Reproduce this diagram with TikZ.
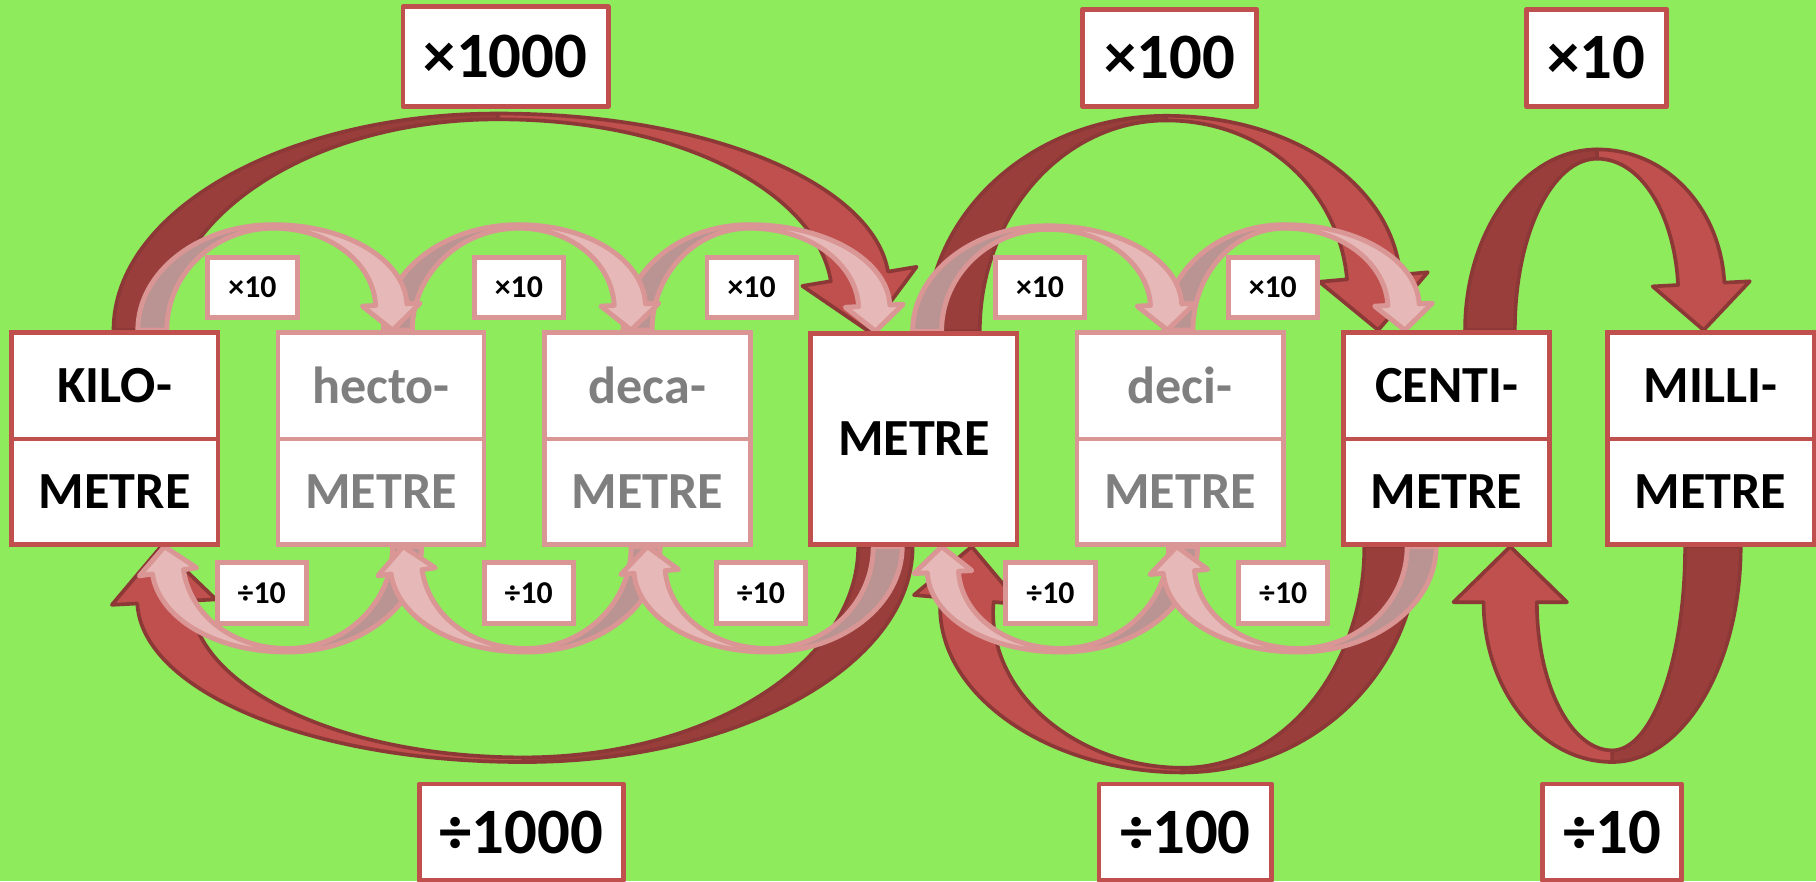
\documentclass[tikz,border=0pt]{standalone}
\usepackage{fontspec}
\setmainfont{Carlito}
\usetikzlibrary{calc}
\pgfdeclarelayer{bglayer}
\pgfdeclarelayer{arrowlayer}
\pgfsetlayers{bglayer,arrowlayer,main}
\definecolor{bg}{HTML}{8DEB5C}
\definecolor{redfront}{HTML}{C0504D}
\definecolor{redback}{HTML}{9A3E3C}
\definecolor{rededge}{HTML}{8C3836}
\definecolor{pinkfront}{HTML}{E6B9B8}
\definecolor{pinkback}{HTML}{B99492}
\definecolor{pinkedge}{HTML}{D99694}
\definecolor{boxred}{HTML}{C0504D}
\definecolor{greytext}{HTML}{7F7F7F}

\pgfkeys{/rb/.is family}
\pgfkeys{/rb/.cd,
 s/.store in=\rbs, w/.store in=\rbw, ax/.store in=\rbax, h/.store in=\rbh, t/.store in=\rbt,
 hl/.store in=\rbhl, hw/.store in=\rbhw, wb/.store in=\rbwb, phi/.store in=\rbphi,
 part/.store in=\rbpart, back/.store in=\rbbackcol, front/.store in=\rbfrontcol,
 edge/.store in=\rbedgecol, lw/.store in=\rblw,
 big/.style={back=redback,front=redfront,edge=rededge,lw=0.9pt},
 pink/.style={back=pinkback,front=pinkfront,edge=pinkedge,lw=1.2pt},
 pinkset/.style={pink,w=25,h=91,t=3,hl=22,hw=25,wb=27}}

% #1 keys, #2 foot (outer edge), #3 arrow tip
\newcommand\ribbon[3]{%
 \begingroup
 \pgfkeys{/rb/.cd,s=1,t=4,phi=0,part=0,#1}%
 \pgfmathsetmacro\rbang{\rbphi+(1-\rbs)*90}%
 \pgfmathsetmacro\rbangb{\rbang+90}%
 \pgfmathsetmacro\rbangc{\rbang+180}%
 \pgfmathsetmacro\rbhb{\rbwb/2}%
 \pgfmathsetmacro\rbdx{\rbs*\rbw}%
 \pgfmathsetmacro\rbAx{\rbs*\rbax}%
 \pgfmathsetmacro\rbAy{\rbs*\rbh}%
 \pgfmathsetmacro\rbCy{-\rbs*\rbt}%
 \def\rbk{0.552}%
 \coordinate (rF) at (#2);%
 \coordinate (rT) at (#3);%
 \coordinate (rFi) at ($(rF)+(\rbdx,0)$);%
 \coordinate (rA) at ($(rF)+(\rbAx,\rbAy)$);%
 \coordinate (rC) at ($(rA)+(0,\rbCy)$);%
 \coordinate (rB) at ($(rT)+(\rbangb:\rbhl)$);%
 \coordinate (rBo) at ($(rB)+(\rbang:\rbhb)$);%
 \coordinate (rBi) at ($(rB)+(\rbangc:\rbhb)$);%
 \coordinate (rWo) at ($(rB)+(\rbang:\rbhw)$);%
 \coordinate (rWi) at ($(rB)+(\rbangc:\rbhw)$);%
 \ifnum\rbpart<2
  \filldraw[fill=\rbbackcol,draw=\rbedgecol,line width=\rblw,line join=round]
   (rF) .. controls ($(rF)!\rbk!(rF |- rA)$) and ($(rA)!\rbk!(rA -| rF)$) .. (rA)
   -- (rC) .. controls ($(rC)!\rbk!(rC -| rFi)$) and ($(rFi)!\rbk!(rFi |- rC)$) .. (rFi) -- cycle;
 \fi
 \ifnum\rbpart=1 \else
  \filldraw[fill=\rbfrontcol,draw=\rbedgecol,line width=\rblw,line join=round]
   (rA) .. controls ($(rA)!\rbk!(rA -| rBo)$) and ($(rBo)!\rbk!\rbphi:(rBo |- rA)$) .. (rBo)
   -- (rWo) -- (rT) -- (rWi) -- (rBi)
   .. controls ($(rBi)!\rbk!\rbphi:(rBi |- rC)$) and ($(rC)!\rbk!(rC -| rBi)$) .. (rC) -- cycle;
 \fi
 \endgroup}

\newcommand\pinkarrows[1]{%
 \ribbon{pinkset,part=#1,ax=117,phi=3}{$(kilo-t.north)+(20,0)$}{$(hecto-t.north)+(10,0)$}
 \ribbon{pinkset,part=#1,ax=117,phi=3}{$(hecto-t.north)+(2,0)$}{$(deca-t.north)+(-14,0)$}
 \ribbon{pinkset,part=#1,ax=109,phi=3}{$(deca-t.north)+(-21,0)$}{$(metre.north)+(-33,0)$}
 \ribbon{pinkset,part=#1,ax=117,phi=3}{$(metre.north)+(-1,0)$}{$(deci-t.north)+(-11,0)$}
 \ribbon{pinkset,part=#1,ax=104,phi=3}{$(deci-t.north)+(-14,0)$}{$(centi-t.north)+(-36,0)$}
 \ribbon{pinkset,part=#1,s=-1,ax=116,phi=8}{$(hecto-b.south)+(35,0)$}{$(kilo-b.south)+(43,0)$}
 \ribbon{pinkset,part=#1,s=-1,ax=116,phi=8}{$(deca-b.south)+(11,0)$}{$(hecto-b.south)+(19,0)$}
 \ribbon{pinkset,part=#1,s=-1,ax=116,phi=5}{$(metre.south)+(-10,0)$}{$(deca-b.south)+(0,0)$}
 \ribbon{pinkset,part=#1,s=-1,ax=118,phi=3}{$(deci-b.south)+(15,0)$}{$(metre.south)+(24,0)$}
 \ribbon{pinkset,part=#1,s=-1,ax=119,phi=5}{$(centi-b.south)+(-9,0)$}{$(deci-b.south)+(-3,0)$}
}

\tikzset{
 unitbox/.style={draw=boxred, line width=1.1pt, fill=white, minimum width=1.78cm, inner sep=0pt,
   font=\fontsize{12.8}{15}\selectfont\bfseries, text=black},
 palebox/.style={unitbox, draw=pinkedge, text=greytext},
 tophalf/.style={minimum height=0.92cm},
 bothalf/.style={minimum height=0.91cm},
 biglabel/.style={draw=boxred, line width=1.2pt, fill=white, inner sep=0pt, line join=round,
   font=\fontsize{15.9}{19}\selectfont\bfseries},
 smalllabel/.style={draw=pinkedge, line width=1.2pt, fill=white, inner sep=0pt,
   minimum width=0.77cm, minimum height=0.52cm, font=\fontsize{7.8}{9}\selectfont\bfseries}
}

\begin{document}
\begin{tikzpicture}[x=0.01cm,y=0.01cm]
\begin{pgfonlayer}{bglayer}
\fill[bg] (0,0) rectangle (1568,761);
\end{pgfonlayer}
\useasboundingbox (0,0) rectangle (1568,761);

% unit boxes
\node[unitbox,tophalf] (kilo-t) at (99,428) {KILO-};
\node[unitbox,bothalf] (kilo-b) at (99,336.5) {METRE};
\node[palebox,tophalf] (hecto-t) at (329,428) {hecto-};
\node[palebox,bothalf] (hecto-b) at (329,336.5) {METRE};
\node[palebox,tophalf] (deca-t) at (559,428) {deca-};
\node[palebox,bothalf] (deca-b) at (559,336.5) {METRE};
\node[unitbox,minimum height=1.82cm] (metre) at (789,382) {METRE};
\node[palebox,tophalf] (deci-t) at (1019,428) {deci-};
\node[palebox,bothalf] (deci-b) at (1019,336.5) {METRE};
\node[unitbox,tophalf] (centi-t) at (1249,428) {CENTI-};
\node[unitbox,bothalf] (centi-b) at (1249,336.5) {METRE};
\node[unitbox,tophalf] (milli-t) at (1477,428) {MILLI-};
\node[unitbox,bothalf] (milli-b) at (1477,336.5) {METRE};

% big labels
\node[biglabel,minimum width=1.77cm,minimum height=0.86cm] (m1000) at (436.5,712) {×1000};
\node[biglabel,minimum width=1.50cm,minimum height=0.84cm] (m100) at (1010,711) {×100};
\node[biglabel,minimum width=1.21cm,minimum height=0.84cm] (m10) at (1378.5,711) {×10};
\node[biglabel,minimum width=1.76cm,minimum height=0.83cm] (d1000) at (450,42.5) {÷1000};
\node[biglabel,minimum width=1.49cm,minimum height=0.83cm] (d100) at (1023.5,42.5) {÷100};
\node[biglabel,minimum width=1.20cm,minimum height=0.83cm] (d10) at (1392,42.5) {÷10};

% small labels
\node[smalllabel] (mk1) at (218,513) {×10};
\node[smalllabel] (mk2) at (448,513) {×10};
\node[smalllabel] (mk3) at (649,513) {×10};
\node[smalllabel] (mk4) at (898,513) {×10};
\node[smalllabel] (mk5) at (1099,513) {×10};
\node[smalllabel] (dk1) at (226,249) {÷10};
\node[smalllabel] (dk2) at (456.5,249) {÷10};
\node[smalllabel] (dk3) at (657,249) {÷10};
\node[smalllabel] (dk4) at (907,249) {÷10};
\node[smalllabel] (dk5) at (1108,249) {÷10};

\begin{pgfonlayer}{arrowlayer}
% big arrows
\ribbon{big,w=46,ax=332,h=187,t=5,hl=48,hw=50,wb=50,phi=9.5}{$(kilo-t.north)+(-1,0)$}{$(metre.north)+(-39,0)$}
\ribbon{big,w=46,ax=207,h=186,t=4,hl=46,hw=47,wb=46,phi=5}{$(metre.north)+(11,0)$}{$(centi-t.north)+(-59,0)$}
\ribbon{big,w=43,ax=114,h=156,t=8,hl=40,hw=42,wb=40,phi=3}{$(centi-t.north)+(16,0)$}{$(milli-t.north)+(-6,0)$}
\ribbon{big,s=-1,w=47,ax=336,h=186,t=4,hl=48,hw=45,wb=46,phi=3}{$(metre.south)+(-1,0)$}{$(kilo-b.south)+(40,0)$}
\ribbon{big,s=-1,w=46,ax=203,h=195,t=4,hl=46,hw=46,wb=46,phi=-5}{$(centi-b.south)+(-25,0)$}{$(metre.south)+(50,0)$}
\ribbon{big,s=-1,w=48,ax=111,h=186,t=10,hl=48,hw=49,wb=46,phi=0}{$(milli-b.south)+(26,0)$}{$(centi-b.south)+(55,0)$}
% pale arrows: backs first, then fronts
\pinkarrows{1}
\pinkarrows{2}
\end{pgfonlayer}
\end{tikzpicture}
\end{document}
